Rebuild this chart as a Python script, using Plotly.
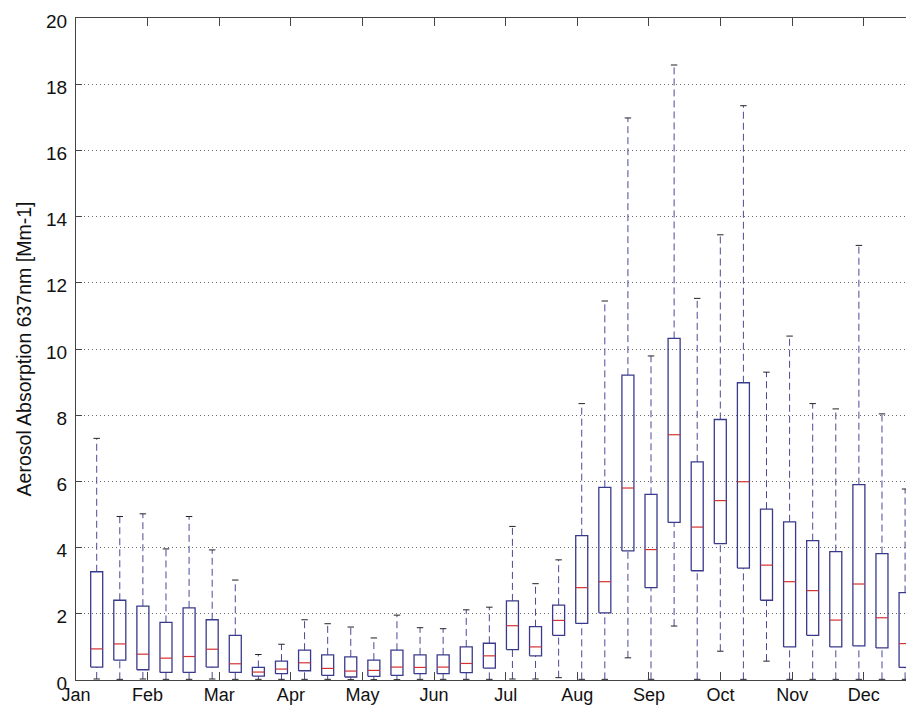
import plotly.graph_objects as go

# ---- data ----
months = ["Jan", "Feb", "Mar", "Apr", "May", "Jun", "Jul", "Aug", "Sep", "Oct", "Nov", "Dec"]
positions = list(range(1, 37))
upper_whisker = [7.30, 4.94, 5.02, 3.96, 4.94, 3.93, 3.02, 0.77, 1.08, 1.82, 1.70, 1.60,
                 1.27, 1.96, 1.58, 1.55, 2.12, 2.20, 4.64, 2.91, 3.63, 8.35, 11.45, 16.98,
                 9.79, 18.58, 11.53, 13.45, 17.35, 9.30, 10.39, 8.35, 8.19, 13.13, 8.04, 5.77]
q3 = [3.27, 2.41, 2.23, 1.74, 2.18, 1.82, 1.35, 0.38, 0.57, 0.90, 0.76, 0.70,
      0.60, 0.90, 0.76, 0.76, 1.00, 1.11, 2.39, 1.61, 2.26, 4.36, 5.82, 9.21,
      5.61, 10.32, 6.59, 7.87, 8.98, 5.16, 4.78, 4.21, 3.88, 5.90, 3.82, 2.64]
median = [0.94, 1.09, 0.78, 0.66, 0.71, 0.93, 0.49, 0.24, 0.33, 0.52, 0.35, 0.27,
          0.29, 0.39, 0.38, 0.39, 0.50, 0.73, 1.64, 1.00, 1.80, 2.79, 2.97, 5.80,
          3.94, 7.41, 4.62, 5.42, 5.99, 3.47, 2.97, 2.70, 1.81, 2.90, 1.88, 1.10]
q1 = [0.39, 0.60, 0.31, 0.23, 0.23, 0.39, 0.23, 0.12, 0.19, 0.28, 0.14, 0.09,
      0.11, 0.14, 0.19, 0.19, 0.22, 0.36, 0.92, 0.73, 1.35, 1.71, 2.03, 3.90,
      2.79, 4.76, 3.30, 4.12, 3.38, 2.41, 1.00, 1.35, 1.00, 1.03, 0.97, 0.38]
lower_whisker = [0.03, 0.02, 0.03, 0.02, 0.02, 0.03, 0.02, 0.02, 0.02, 0.02, 0.02, 0.01,
                 0.01, 0.01, 0.02, 0.02, 0.02, 0.02, 0.03, 0.03, 0.07, 0.02, 0.02, 0.67,
                 0.02, 1.63, 0.02, 0.87, 0.02, 0.57, 0.02, 0.02, 0.02, 0.02, 0.02, 0.02]
month_tick_pos = [0.104 + 3.101 * k for k in range(12)]

# ---- style ----
BOX_HW = 0.26
CAP_HW = 0.14
BOX_COLOR = "#3a3a8c"
WHISK_COLOR = "#4a4a96"
CAP_COLOR = "#222222"
MED_COLOR = "#d23232"

wx, wy, cx, cy, bx, by, mx, my = [], [], [], [], [], [], [], []
for p, lo, a, m, b, hi in zip(positions, lower_whisker, q1, median, q3, upper_whisker):
    wx += [p, p, None, p, p, None]
    wy += [b, hi, None, lo, a, None]
    cx += [p - CAP_HW, p + CAP_HW, None, p - CAP_HW, p + CAP_HW, None]
    cy += [hi, hi, None, lo, lo, None]
    bx += [p - BOX_HW, p + BOX_HW, p + BOX_HW, p - BOX_HW, p - BOX_HW, None]
    by += [a, a, b, b, a, None]
    mx += [p - BOX_HW, p + BOX_HW, None]
    my += [m, m, None]

fig = go.Figure()
fig.add_trace(go.Scatter(x=wx, y=wy, mode="lines", hoverinfo="skip",
                         line=dict(color=WHISK_COLOR, width=1, dash="7px,4px")))
fig.add_trace(go.Scatter(x=cx, y=cy, mode="lines", hoverinfo="skip",
                         line=dict(color=CAP_COLOR, width=1)))
fig.add_trace(go.Scatter(x=bx, y=by, mode="lines", hoverinfo="skip",
                         line=dict(color=BOX_COLOR, width=1.3)))
fig.add_trace(go.Scatter(x=mx, y=my, mode="lines", hoverinfo="skip",
                         line=dict(color=MED_COLOR, width=1.2)))

fig.update_layout(
    width=906, height=705,
    margin=dict(l=76, r=0, t=18, b=25),
    paper_bgcolor="white", plot_bgcolor="white",
    showlegend=False,
    font=dict(family="Liberation Sans, Arial, sans-serif", size=19, color="#111111"),
)
fig.update_xaxes(
    range=[0.104, 36.04],
    tickmode="array", tickvals=month_tick_pos, ticktext=months,
    ticks="inside", ticklen=8, tickcolor="#444444",
    showline=True, linecolor="#444444", linewidth=1, mirror="ticks",
    showgrid=False, zeroline=False, automargin=False,
    ticklabelstandoff=-2,
    tickfont=dict(size=18),
)
fig.update_yaxes(
    range=[0, 20], tickmode="array", tickvals=list(range(0, 21, 2)),
    ticks="inside", ticklen=6, tickcolor="#444444",
    showline=True, linecolor="#444444", linewidth=1, mirror=False,
    showgrid=True, gridcolor="#666666", gridwidth=1, griddash="1px,3px",
    zeroline=False, automargin=False, ticklabelstandoff=4, ticklabelshift=3,
    tickfont=dict(size=19),
    title=dict(text="Aerosol Absorption 637nm [Mm-1]", font=dict(size=19.5), standoff=9),
)

fig.write_html("out.html")
